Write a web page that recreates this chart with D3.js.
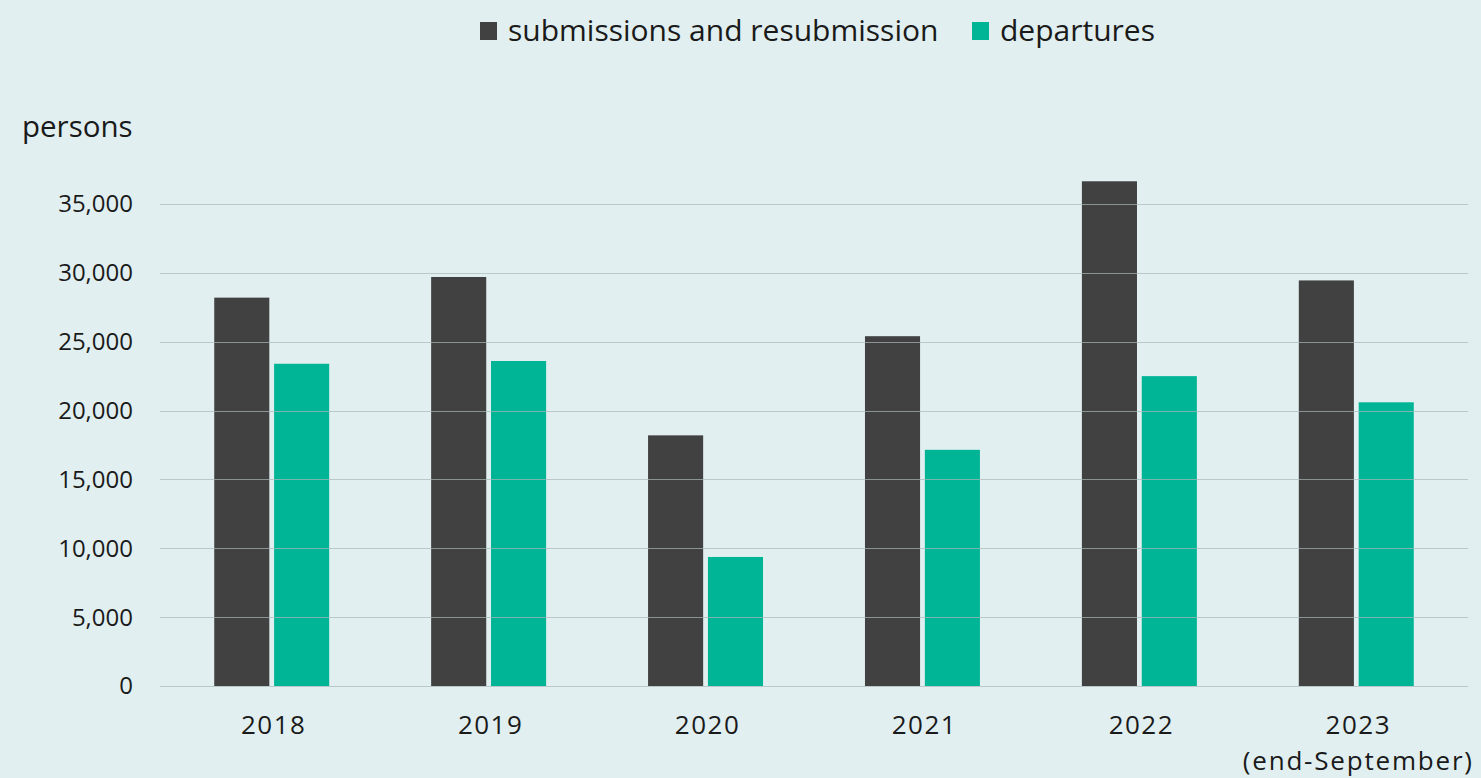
<!DOCTYPE html>
<html>
<head>
<meta charset="utf-8">
<script src="https://cdn.jsdelivr.net/npm/d3@7/dist/d3.min.js"></script>
<style>
  html, body { margin: 0; padding: 0; background: #e1eff0; }
  svg { display: block; font-family: "Open Sans", Lato, sans-serif; }
</style>
</head>
<body>
<svg id="chart" width="1481" height="778"></svg>
<script>
// Datos del gráfico
const anios = ["2018", "2019", "2020", "2021", "2022", "2023"];
const subtitulos = ["", "", "", "", "", "(end-September)"];
const series = ["submissions and resubmission", "departures"];
const solicitudes = [28200, 29700, 18200, 25400, 36650, 29450];
const salidas = [23400, 23600, 9370, 17150, 22500, 20600];
const ticks = [0, 5000, 10000, 15000, 20000, 25000, 30000, 35000];
const colores = ["#414141", "#00b496"];

const svg = d3.select("#chart");
const left = 160, right = 1468, base = 686, top35 = 204;

const x = d3.scaleBand().domain(anios).range([left, right]).paddingInner(0.47).paddingOuter(0.25);
const xSub = d3.scaleBand().domain(series).range([0, x.bandwidth()]).paddingInner(0.08);
const y = d3.scaleLinear().domain([0, 35000]).range([base, top35]);

const datos = anios.map((a, i) => ({ anio: a, valores: [solicitudes[i], salidas[i]] }));

// Barras
const grupos = svg.append("g").selectAll("g")
    .data(datos)
    .enter()
    .append("g")
    .attr("transform", d => `translate(${x(d.anio)},0)`);

grupos.selectAll("rect")
    .data(d => d.valores.map((v, j) => ({ serie: series[j], valor: v, j: j })))
    .enter()
    .append("rect")
    .attr("x", d => xSub(d.serie))
    .attr("y", d => y(d.valor))
    .attr("width", xSub.bandwidth())
    .attr("height", d => base - y(d.valor))
    .attr("fill", d => colores[d.j]);

// Líneas de la cuadrícula (encima de las barras)
svg.append("g").selectAll("line")
    .data(ticks)
    .enter()
    .append("line")
    .attr("x1", left)
    .attr("x2", right)
    .attr("y1", d => Math.round(y(d)) + 0.5)
    .attr("y2", d => Math.round(y(d)) + 0.5)
    .attr("stroke", "#a9b8b9")
    .attr("stroke-opacity", 0.7)
    .attr("stroke-width", 1.2);

// Etiquetas del eje Y
svg.append("g").selectAll("text")
    .data(ticks)
    .enter()
    .append("text")
    .attr("x", 133)
    .attr("y", d => y(d))
    .attr("dy", "0.35em")
    .attr("text-anchor", "end")
    .attr("font-size", 24)
    .attr("fill", "#1a1a1a")
    .text(d => d3.format(",")(d));

svg.append("text")
    .attr("x", 22)
    .attr("y", 137)
    .attr("font-size", 29.5)
    .attr("fill", "#1a1a1a")
    .text("persons");

// Etiquetas del eje X
const etiquetas = svg.append("g").selectAll("g")
    .data(anios)
    .enter()
    .append("g")
    .attr("transform", d => `translate(${x(d) + x.bandwidth() / 2 + 2},0)`);

etiquetas.append("text")
    .attr("y", 734)
    .attr("text-anchor", "middle")
    .attr("font-size", 26)
    .attr("letter-spacing", 1.5)
    .attr("fill", "#1a1a1a")
    .text(d => d);

etiquetas.append("text")
    .attr("y", 770)
    .attr("text-anchor", "middle")
    .attr("font-size", 26)
    .attr("letter-spacing", 1.8)
    .attr("fill", "#1a1a1a")
    .text((d, i) => subtitulos[i]);

// Leyenda
const leyenda = svg.append("g");
const posLeyenda = [480, 972];
series.forEach((s, i) => {
    leyenda.append("rect")
        .attr("x", posLeyenda[i])
        .attr("y", 22)
        .attr("width", 17)
        .attr("height", 18)
        .attr("fill", colores[i]);
    leyenda.append("text")
        .attr("x", posLeyenda[i] + 28)
        .attr("y", 41)
        .attr("font-size", 30)
        .attr("fill", "#1a1a1a")
        .text(s);
});
</script>
</body>
</html>
